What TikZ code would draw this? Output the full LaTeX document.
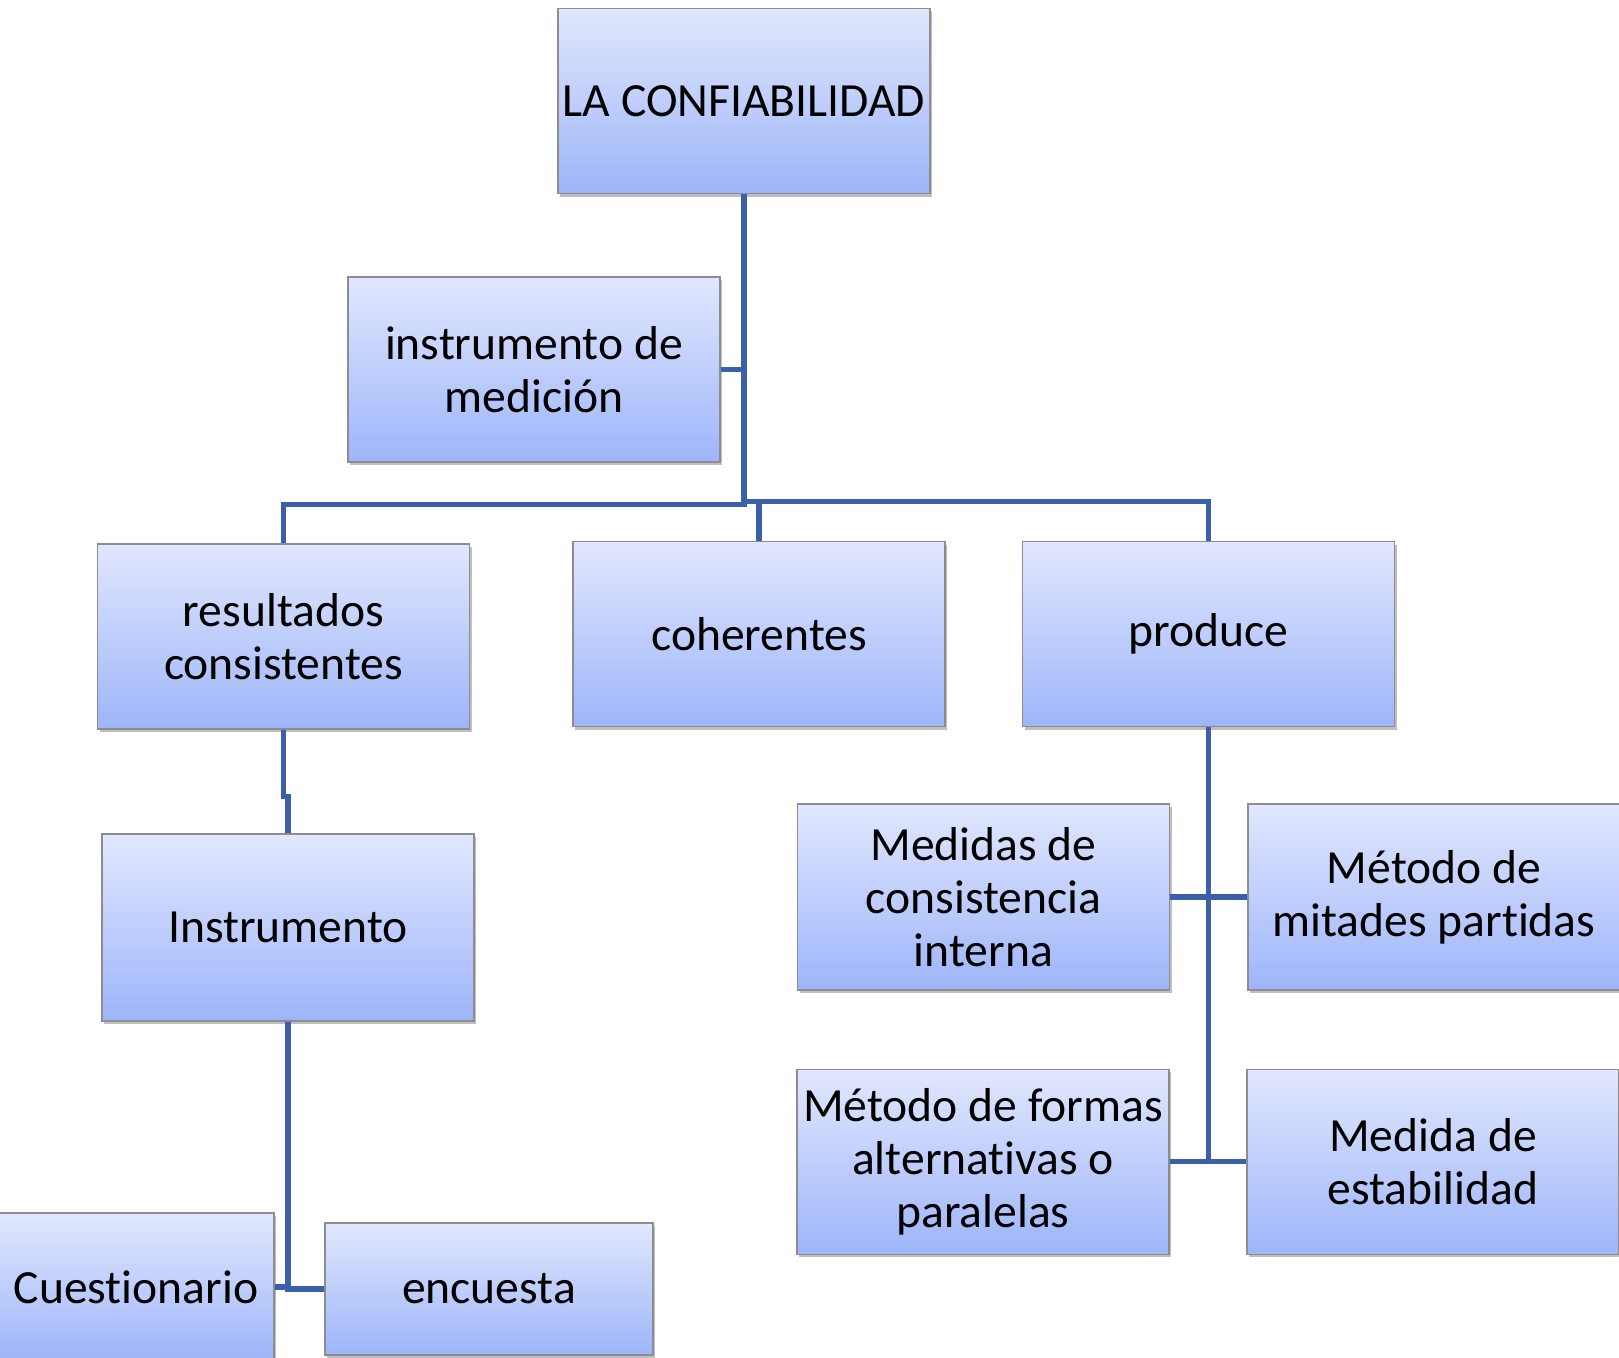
\documentclass[tikz,border=0pt]{standalone}
\usepackage{fontspec}
\setmainfont{Carlito}[RawFeature={-liga}]
\usetikzlibrary{shadows}
\definecolor{conncol}{RGB}{60,95,170}
\definecolor{boxtop}{RGB}{225,231,253}
\definecolor{boxbot}{RGB}{157,181,249}
\definecolor{boxline}{RGB}{140,140,145}
\tikzset{
  box/.style={draw=boxline, line width=0.7pt, top color=boxtop, bottom color=boxbot,
    minimum width=186pt, minimum height=92.5pt, inner sep=2pt, align=center,
    font=\fontsize{23.8pt}{26.4pt}\selectfont,
    drop shadow={shadow xshift=1.2pt, shadow yshift=-1.5pt, fill=black, opacity=0.25}},
  conn/.style={draw=conncol, line width=2.7pt}
}
\begin{document}
\begin{tikzpicture}[x=0.5pt,y=-0.5pt]
\useasboundingbox (0,0) rectangle (1619,1357);
\fill[white] (0,0) rectangle (1619,1357);
% nodes
\node[box] (conf) at (744,101) {LA CONFIABILIDAD};
\node[box] (inst) at (534,369.5) {instrumento de\\medición};
\node[box] (res) at (283.5,636.5) {resultados\\consistentes};
\node[box] (coh) at (759,634) {coherentes};
\node[box] (prod) at (1208.5,634) {produce};
\node[box, minimum height=93.5pt] (instr) at (288,927.5) {Instrumento};
\node[box, minimum width=138pt, minimum height=74pt] (cuest) at (136,1287) {Cuestionario};
\node[box, minimum width=164pt, minimum height=66pt] (enc) at (489,1289) {encuesta};
\node[box, minimum height=93pt] (med) at (983.5,897) {Medidas de\\consistencia\\interna};
\node[box, minimum height=93pt] (mit) at (1434,897) {Método de\\mitades partidas};
\node[box] (mfa) at (983,1161.75) {Método de formas\\alternativas o\\paralelas};
\node[box] (est) at (1433,1161.75) {Medida de\\estabilidad};
% junctions
\coordinate (jl) at (744,504.5);
\coordinate (jr) at (744,501.5);
% connectors
\draw[conn] (conf.south) -- (jl) -| (res.north);
\draw[conn] (jr) -| (prod.north);
\draw[conn] (coh.north) -- (coh.north |- jr);
\draw[conn] (inst.east) -- (inst.east -| conf.south);
\draw[conn] (res.south) -- ++(0,67) -| (instr.north);
\draw[conn] (instr.south) |- (enc.west);
\draw[conn] (cuest.east) -- (cuest.east -| instr.south);
\draw[conn] (prod.south) -- (prod.south |- mfa.east);
\draw[conn] (med.east) -- (mit.west);
\draw[conn] (mfa.east) -- (est.west);
\end{tikzpicture}
\end{document}
